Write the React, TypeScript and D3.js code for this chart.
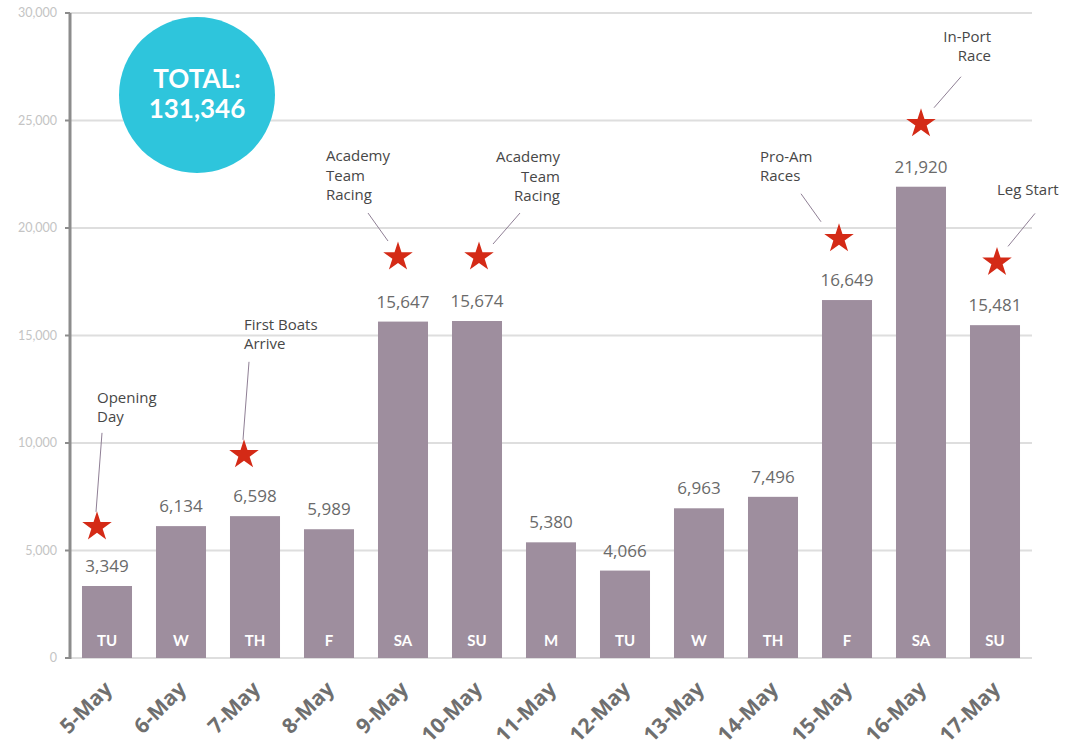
import React from 'react';
import * as d3 from 'd3';

const dates = ['5-May', '6-May', '7-May', '8-May', '9-May', '10-May', '11-May', '12-May', '13-May', '14-May', '15-May', '16-May', '17-May'];
const days = ['TU', 'W', 'TH', 'F', 'SA', 'SU', 'M', 'TU', 'W', 'TH', 'F', 'SA', 'SU'];
const visitors = [3349, 6134, 6598, 5989, 15647, 15674, 5380, 4066, 6963, 7496, 16649, 21920, 15481];
const yTicks = [0, 5000, 10000, 15000, 20000, 25000, 30000];

const eventDates = ['5-May', '7-May', '9-May', '10-May', '15-May', '16-May', '17-May'];
const eventLabels = [
  ['Opening', 'Day'],
  ['First Boats', 'Arrive'],
  ['Academy', 'Team', 'Racing'],
  ['Academy', 'Team', 'Racing'],
  ['Pro-Am', 'Races'],
  ['In-Port', 'Race'],
  ['Leg Start'],
];
const eventLevels = [6100, 9450, 18650, 18650, 19500, 24850, 18400];
const totalLabel = '131,346';

// placement of star + callout relative to the bar (pixels)
const calloutLayout = [
  { shift: -10, tx: 0, ty: -124, anchor: 'start', l: [5, -94, -1, -15] },
  { shift: -11, tx: 0, ty: -125, anchor: 'start', l: [5, -93, -1, -15] },
  { shift: -5, tx: -72, ty: -96, anchor: 'start', l: [-30, -44, -10, -16] },
  { shift: 2, tx: 81, ty: -95, anchor: 'end', l: [41, -44, 14, -13] },
  { shift: -8, tx: -79, ty: -77, anchor: 'start', l: [-38, -45, -18, -17] },
  { shift: 0, tx: 70, ty: -82, anchor: 'end', l: [40, -47, 13, -16] },
  { shift: 2, tx: 0, ty: -67, anchor: 'start', l: [38, -49, 11, -16] },
];

const W = 1076;
const H = 748;
const m = { top: 13, right: 44, bottom: 90, left: 70 };
const font = '"Lato", "DejaVu Sans", sans-serif';
const wide = '"Open Sans", "DejaVu Sans", sans-serif';

export default function App() {
  const x = d3.scaleBand<string>().domain(dates).range([m.left, W - m.right]).paddingInner(0.324).paddingOuter(0.162);
  const y = d3.scaleLinear().domain([0, 30000]).range([H - m.bottom, m.top]);
  const fmt = d3.format(',');
  const star = d3.symbol().type(d3.symbolStar).size(270)();
  const cx = (d: string) => (x(d) as number) + x.bandwidth() / 2;

  return (
    <svg width={W} height={H} style={{ position: 'absolute', left: 0, top: 0, fontFamily: font }}>
      <rect width={W} height={H} fill="#fff" />
      {yTicks.map((t) => (
        <g key={t}>
          <line x1={m.left} x2={W - m.right} y1={y(t)} y2={y(t)} stroke="#dedede" strokeWidth={2} />
          <line x1={m.left - 5} x2={m.left} y1={y(t)} y2={y(t)} stroke="#8c8c8c" strokeWidth={2} />
          <text x={m.left - 13} y={y(t)} dy="0.35em" textAnchor="end" fontSize={12.5} fill="#c4c4c4">{fmt(t)}</text>
        </g>
      ))}
      <line x1={m.left} x2={m.left} y1={y(30000)} y2={y(0) + 1} stroke="#8c8c8c" strokeWidth={3} />

      {visitors.map((v, i) => (
        <g key={dates[i]}>
          <rect x={x(dates[i])} y={y(v)} width={x.bandwidth()} height={y(0) - y(v)} fill="#9e8e9e" />
          <text x={cx(dates[i])} y={y(v) - 14} textAnchor="middle" fontFamily={wide} fontSize={17} fill="#6a6a6a">{fmt(v)}</text>
          <text x={cx(dates[i])} y={y(0) - 12} textAnchor="middle" fontSize={15} fontWeight="bold" fill="#fff">{days[i]}</text>
          <text transform={`translate(${cx(dates[i]) - 4},${y(0) + 22}) rotate(-45)`} dy="0.7em" textAnchor="end" fontFamily={wide} fontSize={21} fontWeight="bold" fill="#6f6f6f">{dates[i]}</text>
        </g>
      ))}

      {eventDates.map((d, i) => {
        const L = calloutLayout[i];
        const sx = cx(d) + L.shift;
        const sy = y(eventLevels[i]);
        return (
          <g key={d}>
            <line x1={sx + L.l[0]} y1={sy + L.l[1]} x2={sx + L.l[2]} y2={sy + L.l[3]} stroke="#8f7f95" strokeWidth={1} />
            <path d={star as string} transform={`translate(${sx},${sy})`} fill="#d42a16" />
            <text x={sx + L.tx} y={sy + L.ty} textAnchor={L.anchor} fontFamily={wide} fontSize={15} fill="#474747">
              {eventLabels[i].map((s, k) => (
                <tspan key={k} x={sx + L.tx} dy={k === 0 ? 0 : 19.5}>{s}</tspan>
              ))}
            </text>
          </g>
        );
      })}

      <circle cx={197} cy={95} r={78} fill="#2ec5dc" />
      <text x={197} y={88} textAnchor="middle" fontSize={26} fontWeight="bold" fill="#fff">TOTAL:</text>
      <text x={197} y={118} textAnchor="middle" fontSize={26} fontWeight="bold" fill="#fff">{totalLabel}</text>
    </svg>
  );
}
